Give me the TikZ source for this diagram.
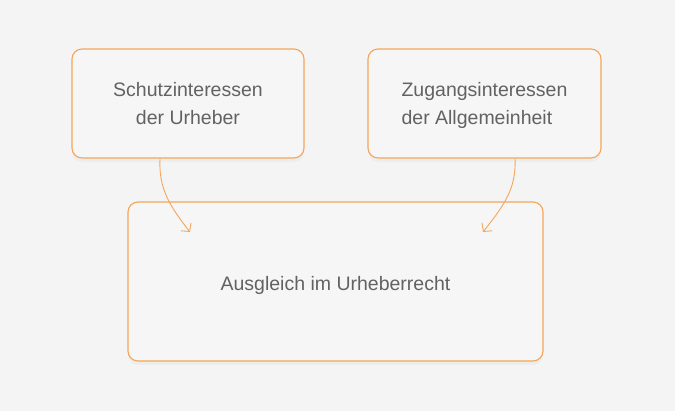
\documentclass[tikz,border=0pt]{standalone}
\usepackage{fontspec}
\setmainfont{Liberation Sans}
\newfontfamily\medfont{Liberation Sans}[AutoFakeBold=1.4]
\usetikzlibrary{arrows.meta,shadows}

\definecolor{bgcol}{HTML}{F4F4F4}
\definecolor{boxfill}{HTML}{F6F6F6}
\definecolor{rim}{HTML}{F4A55A}
\definecolor{txt}{HTML}{626262}

\tikzset{
  topbox/.style={draw=rim, fill=boxfill, line width=1.1pt, rounded corners=10pt,
    minimum width=232pt, minimum height=109pt, text=txt,
    text height=47.1pt, text depth=4.1pt,
    drop shadow={opacity=0.06, shadow xshift=0pt, shadow yshift=-4pt}},
  link/.style={draw=rim, line width=0.9pt, -{Straight Barb[length=6pt,width=13pt]}}
}

\begin{document}
\begin{tikzpicture}[x=1pt, y=1pt, font=\medfont\fontsize{19.5}{28}\selectfont]
    \fill[bgcol] (0,0) rectangle (675,411);
    \useasboundingbox (0,0) rectangle (675,411);

\node[topbox, align=center] (schutz) at (188,307.5) {Schutzinteressen\\der Urheber};
\node[topbox, align=left, minimum width=233pt] (zugang) at (484.5,307.5) {Zugangsinteressen\\der Allgemeinheit};
\node[topbox, minimum width=415pt, minimum height=159pt, text height=23.1pt] (ausgleich) at (335.5,129.5) {Ausgleich im Urheberrecht};

\coordinate (tipA) at (190,179);
\coordinate (tipB) at (483,179);

\draw[link] ([xshift=-28pt]schutz.south) to[out=-93, in=128] (tipA);
\draw[link] ([xshift=30.5pt]zugang.south) to[out=-87, in=52] (tipB);
  \end{tikzpicture}
\end{document}
